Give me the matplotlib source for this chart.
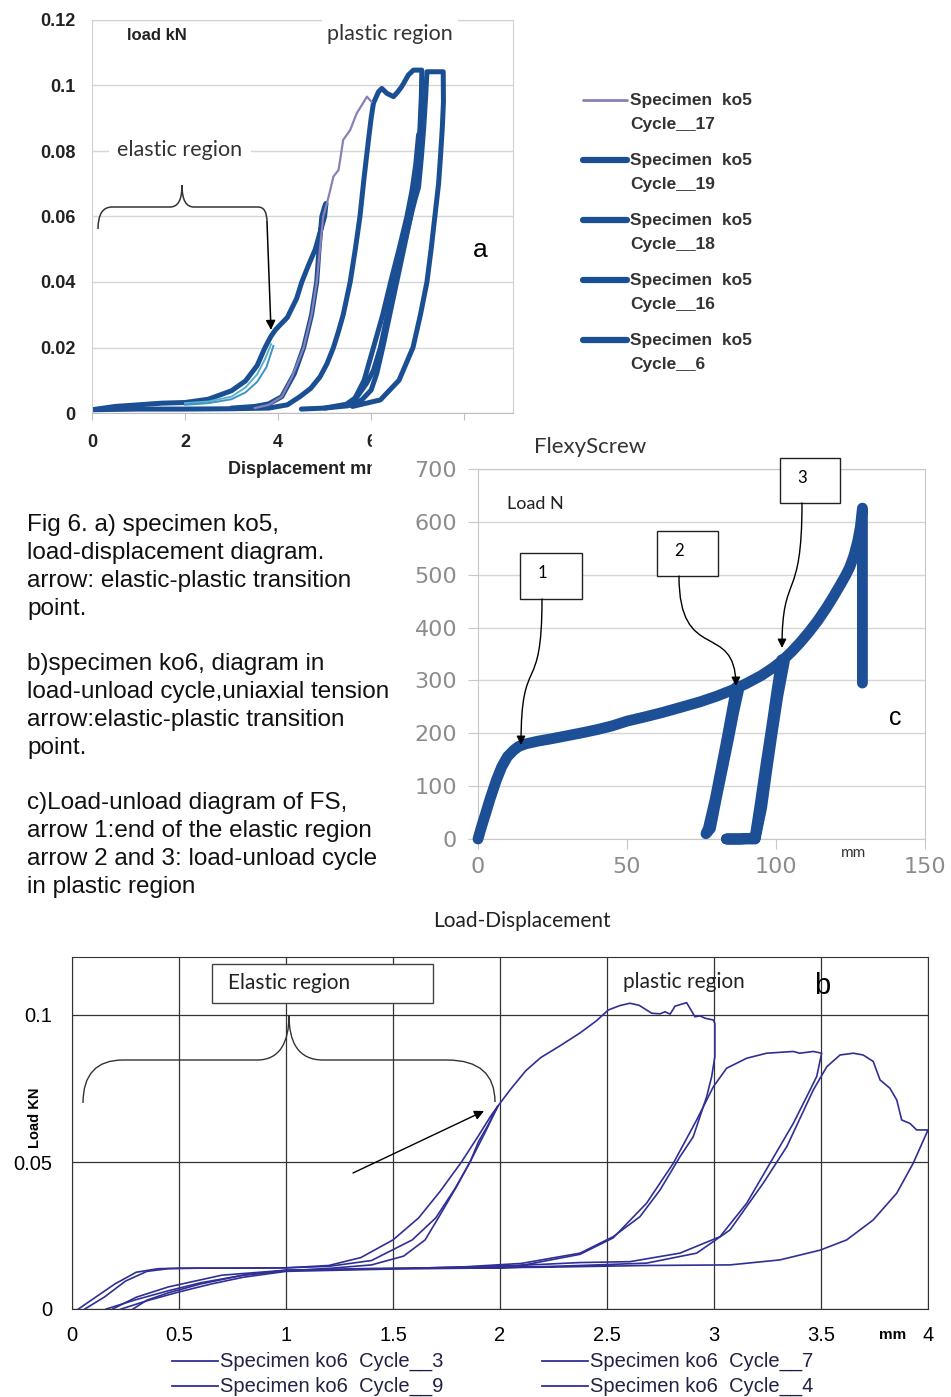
import matplotlib
matplotlib.use("Agg")
import matplotlib.pyplot as plt
from matplotlib.path import Path
from matplotlib.patches import PathPatch, Rectangle, FancyArrowPatch
from matplotlib.transforms import Affine2D
from matplotlib.lines import Line2D

W, H = 951, 1397

# ---- panel a: specimen ko5, displacement (mm) vs load (kN) ----
a_c6_x = [0, 0.5, 1, 1.5, 2, 2.5, 3, 3.3, 3.55, 3.72, 3.85, 3.95, 4.2, 4.4, 4.51, 4.65, 4.8, 4.92,
          5.0, 5.03, 5.0, 4.94, 4.88, 4.83, 4.72, 4.55, 4.35, 4.08, 3.8, 3.5, 3.0]
a_c6_y = [0.001, 0.002, 0.0025, 0.003, 0.0032, 0.0042, 0.0068, 0.0098, 0.0145, 0.02, 0.0235, 0.0255,
          0.0292, 0.035, 0.04, 0.045, 0.05, 0.056, 0.06, 0.064,
          0.063, 0.06, 0.05, 0.04, 0.03, 0.02, 0.012, 0.005, 0.0028, 0.002, 0.0015]
a_c17_x = [3.5, 3.8, 4.08, 4.3, 4.55, 4.72, 4.83, 4.9, 4.97, 5.05, 5.12, 5.19, 5.3, 5.4, 5.55,
           5.69, 5.8, 5.91, 6.01]
a_c17_y = [0.0015, 0.0025, 0.005, 0.011, 0.02, 0.03, 0.04, 0.05, 0.06, 0.064, 0.068, 0.0722, 0.0742,
           0.0834, 0.0864, 0.0915, 0.094, 0.0966, 0.095]
a_c16_x = [0, 1, 2, 3, 3.8, 4.2, 4.47, 4.7, 4.9, 5.05, 5.19, 5.3, 5.4, 5.55, 5.66, 5.76, 5.85, 5.94,
           6.0, 6.05, 6.16, 6.23, 6.34, 6.48, 6.57, 6.66, 6.8, 6.91, 7.09,
           7.08, 7.05, 7.0, 6.95, 6.85, 6.68, 6.5, 6.35, 6.2, 6.05, 5.9, 5.7, 5.5]
a_c16_y = [0.001, 0.0012, 0.0012, 0.0013, 0.0015, 0.0025, 0.005, 0.0075, 0.011, 0.015, 0.02, 0.025,
           0.03, 0.04, 0.05, 0.06, 0.072, 0.083, 0.09, 0.0946, 0.0981, 0.0991, 0.0976, 0.0966, 0.098,
           0.0997, 0.1032, 0.1047, 0.1047,
           0.097, 0.087, 0.078, 0.069, 0.06, 0.05, 0.04, 0.03, 0.02, 0.013, 0.009, 0.005, 0.003]
a_c18_x = [4.5, 5.0, 5.5, 5.8, 6.0, 6.12, 6.25, 6.4, 6.55, 6.7, 6.85, 6.94, 7.02, 7.08, 7.13, 7.17,
           7.2, 7.3, 7.45, 7.55, 7.555, 7.53, 7.49, 7.45, 7.37, 7.29, 7.2, 7.06, 6.9, 6.6, 6.2, 5.6]
a_c18_y = [0.0012, 0.0015, 0.0022, 0.004, 0.007, 0.012, 0.02, 0.03, 0.04, 0.05, 0.06, 0.065, 0.069,
           0.078, 0.087, 0.096, 0.1042, 0.1042, 0.1042, 0.1042, 0.095, 0.087, 0.078, 0.07, 0.06, 0.05,
           0.04, 0.03, 0.02, 0.01, 0.004, 0.002]
a_c19_x = [5.0, 5.6, 5.85, 6.05, 6.25, 6.42, 6.6, 6.77, 6.88, 6.96, 7.02]
a_c19_y = [0.0015, 0.003, 0.01, 0.02, 0.03, 0.04, 0.05, 0.06, 0.068, 0.076, 0.085]
a_teal1_x = [2.0, 2.5, 3.0, 3.3, 3.55, 3.72, 3.85]
a_teal1_y = [0.003, 0.0035, 0.005, 0.0078, 0.0118, 0.0165, 0.021]
a_teal2_x = [2.0, 2.5, 3.0, 3.3, 3.55, 3.75, 3.9]
a_teal2_y = [0.0025, 0.003, 0.0042, 0.0063, 0.0095, 0.014, 0.0205]
a_labels = ["Cycle__17", "Cycle__19", "Cycle__18", "Cycle__16", "Cycle__6"]

# ---- panel c: FlexyScrew, displacement (mm) vs load (N) ----
c_load_x = [0, 1, 2.6, 4, 6.2, 8, 9.9, 12, 13.6, 16, 20, 25, 30, 35, 40, 45, 50, 56, 62, 68, 74.5,
            80, 85, 90, 95, 99, 102, 105, 108, 111, 114, 117, 119.2, 121.5, 123.5, 124.8, 126.2,
            127.4, 128.3, 129, 129, 129]
c_load_y = [0, 20, 49, 75, 112, 137, 156, 168, 175, 180, 185, 190, 195.5, 201, 207, 214, 223, 231,
            239.5, 249, 259.5, 270, 281, 294, 309, 324, 337, 353, 371, 391, 413, 438, 458, 480, 500,
            515, 537, 563, 590, 626, 450, 295]
c_loop2_x = [86.8, 85.2, 83.4, 81.5, 79.6, 77.3, 76.5, 78.0, 79.9, 81.9, 83.9, 85.8, 87.6]
c_loop2_y = [288, 240, 185, 130, 75, 20, 10, 20, 75, 130, 185, 240, 286]
c_loop3_x = [101.9, 100.3, 98.5, 96.6, 94.8, 93.3, 93.0, 88.0, 83.4, 93.0, 95.2, 96.9, 98.7, 100.6,
             102.8]
c_loop3_y = [339, 280, 210, 140, 70, 15, 2, 0, 0, 0, 60, 130, 200, 270, 336]

# ---- panel b: specimen ko6, displacement (mm) vs load (kN) ----
b_c3_x = [0.03, 0.1, 0.2, 0.3, 0.4, 0.5, 0.7, 1.0, 1.2, 1.35, 1.5, 1.62, 1.72, 1.82, 1.9, 1.96, 1.99,
          1.94, 1.9, 1.86, 1.8, 1.72, 1.65, 1.55, 1.4, 1.2, 1.0, 0.8, 0.6, 0.45, 0.35, 0.285]
b_c3_y = [0, 0.0035, 0.0085, 0.0125, 0.0137, 0.0139, 0.0139, 0.014, 0.0148, 0.0175, 0.0235, 0.031,
          0.04, 0.05, 0.059, 0.066, 0.069,
          0.062, 0.057, 0.05, 0.042, 0.032, 0.0235, 0.018, 0.015, 0.0138, 0.013, 0.0115, 0.0085, 0.0055,
          0.003, 0]
b_c9_x = [0.06, 0.15, 0.25, 0.35, 0.45, 0.6, 0.8, 1.0, 1.2, 1.4, 1.59, 1.7, 1.79, 1.86, 1.93, 1.99,
          2.05, 2.12, 2.19, 2.28, 2.374, 2.45, 2.506, 2.56, 2.607, 2.65, 2.709, 2.748, 2.771, 2.795,
          2.818, 2.872, 2.911, 2.935, 2.958, 2.997, 3.004, 3.004, 2.989, 2.966, 2.903, 2.841, 2.748,
          2.654, 2.529, 2.374, 2.1, 1.8, 1.4, 1.0, 0.7, 0.45, 0.3, 0.19]
b_c9_y = [0, 0.004, 0.0095, 0.0128, 0.0137, 0.0139, 0.0139, 0.014, 0.0145, 0.0165, 0.0235, 0.031,
          0.041, 0.05, 0.06, 0.069,
          0.0748, 0.081, 0.0855, 0.0895, 0.0939, 0.098, 0.1017, 0.1032, 0.104, 0.1033, 0.1006, 0.1004,
          0.1011, 0.1003, 0.103, 0.1042, 0.0994, 0.0997, 0.0989, 0.0983, 0.0971, 0.0858, 0.079, 0.0723,
          0.0586, 0.0518, 0.0405, 0.0314, 0.0246, 0.019, 0.0155, 0.0142, 0.0136, 0.0132, 0.0115,
          0.0075, 0.004, 0]
b_c7_x = [0.16, 0.3, 0.45, 0.6, 0.8, 1.0, 1.4, 1.8, 2.1, 2.374, 2.529, 2.685, 2.81, 2.919, 2.997,
          3.059, 3.153, 3.246, 3.371, 3.40, 3.464, 3.503, 3.48, 3.449, 3.371, 3.262, 3.153, 3.028, 2.841,
          2.607, 2.374, 2.0, 1.6]
b_c7_y = [0, 0.0032, 0.0062, 0.0089, 0.0115, 0.0132, 0.0138, 0.0141, 0.0148, 0.0186, 0.0242, 0.036,
          0.0496, 0.0643, 0.0756, 0.0819, 0.0853, 0.087, 0.0876, 0.087, 0.0876, 0.087, 0.0791, 0.0745,
          0.0632, 0.0496, 0.036, 0.0246, 0.019, 0.0161, 0.0158, 0.0145, 0.0139]
b_c4_x = [0.23, 0.35, 0.5, 0.65, 0.8, 1.0, 1.5, 2.0, 2.374, 2.685, 2.919, 3.075, 3.23, 3.34, 3.464,
          3.527, 3.589, 3.651, 3.697, 3.744, 3.776, 3.822, 3.854, 3.877, 3.916, 3.947, 4.0,
          3.931, 3.854, 3.744, 3.62, 3.495, 3.308, 3.075, 2.685, 2.2, 1.6]
b_c4_y = [0, 0.0028, 0.0058, 0.0085, 0.0108, 0.0128, 0.0136, 0.014, 0.0148, 0.0156, 0.019, 0.0269,
          0.0428, 0.0552, 0.0745, 0.0824, 0.0864, 0.087, 0.0864, 0.0842, 0.0779, 0.0751, 0.0711,
          0.0643, 0.0631, 0.0609, 0.0609,
          0.0496, 0.0394, 0.0303, 0.0235, 0.02, 0.0167, 0.015, 0.0148, 0.0142, 0.0139]
b_labels = ["Specimen ko6  Cycle__3", "Specimen ko6  Cycle__9",
            "Specimen ko6  Cycle__7", "Specimen ko6  Cycle__4"]

caption = ["Fig 6. a) specimen ko5,", "load-displacement diagram.",
           "arrow: elastic-plastic transition", "point.", "",
           "b)specimen ko6, diagram in", "load-unload cycle,uniaxial tension",
           "arrow:elastic-plastic transition", "point.", "",
           "c)Load-unload diagram of FS,", "arrow 1:end of the elastic region",
           "arrow 2 and 3: load-unload cycle", "in plastic region"]

ARIAL = ["Liberation Sans", "DejaVu Sans"]
CALIBRI = ["Lato", "DejaVu Sans"]

fig = plt.figure(figsize=(W / 100, H / 100), dpi=100)
px = Affine2D().scale(1.0 / W, -1.0 / H).translate(0, 1) + fig.transFigure


def box(l, t, r, b):
    return [l / W, 1 - b / H, (r - l) / W, (b - t) / H]


def ftext(x, y, s, **kw):
    kw.setdefault("zorder", 6)
    return fig.text(x / W, 1 - y / H, s, **kw)


# ================= panel a =================
ax_a = fig.add_axes(box(92, 20, 513, 413), zorder=1)
ax_a.set_xlim(0, 9.05)
ax_a.set_ylim(0, 0.12)
blue_a = "#1b4f93"
ax_a.plot(a_teal1_x, a_teal1_y, color="#58b2cc", lw=1.4, zorder=3)
ax_a.plot(a_teal2_x, a_teal2_y, color="#3f93c2", lw=1.4, zorder=3)
for xs, ys in [(a_c6_x, a_c6_y), (a_c16_x, a_c16_y), (a_c18_x, a_c18_y), (a_c19_x, a_c19_y)]:
    ax_a.plot(xs, ys, color=blue_a, lw=3.6, zorder=2, solid_joinstyle="round",
              solid_capstyle="round")
ax_a.plot(a_c17_x, a_c17_y, color="#8a80b8", lw=1.6, zorder=3)
ax_a.set_yticks([0, 0.02, 0.04, 0.06, 0.08, 0.1, 0.12])
ax_a.set_yticklabels(["0", "0.02", "0.04", "0.06", "0.08", "0.1", "0.12"])
ax_a.set_xticks([0, 2, 4, 6, 8])
ax_a.tick_params(axis="y", length=0, pad=12, labelsize=13, labelcolor="#222222")
ax_a.tick_params(axis="x", length=5, color="#c0c0c0", pad=10, labelsize=13, labelcolor="#222222")
for lab in ax_a.get_xticklabels() + ax_a.get_yticklabels():
    lab.set_fontfamily(ARIAL)
    lab.set_fontweight("bold")
ax_a.grid(axis="y", color="#d6d6d6", lw=1)
ax_a.set_axisbelow(True)
for sp in ax_a.spines.values():
    sp.set_color("#d0d0d0")
ax_a.spines["bottom"].set_color("#bdbdbd")

ftext(157, 35, "load kN", ha="center", va="center", fontsize=12, fontweight="bold",
      family=ARIAL, color="#222222")
ftext(390, 34, "plastic region", ha="center", va="center", fontsize=15.5, family=CALIBRI,
      color="#333333", bbox=dict(facecolor="white", edgecolor="none", pad=4))
ftext(180, 150, "elastic region", ha="center", va="center", fontsize=15.5, family=CALIBRI,
      color="#333333", bbox=dict(facecolor="white", edgecolor="none", pad=6))
ftext(480, 250, "a", ha="center", va="center", fontsize=19, family=ARIAL)
ftext(228, 470, "Displacement mm", ha="left", va="center", fontsize=13, fontweight="bold",
      family=ARIAL, color="#222222", zorder=1.5)

brace_a = Path([(98, 229), (98, 207), (112, 207), (170, 207), (178, 207), (182, 200), (182, 185),
                (182, 200), (186, 207), (194, 207), (258, 207), (267, 207), (267, 222)],
               [Path.MOVETO, Path.CURVE3, Path.CURVE3, Path.LINETO, Path.CURVE4, Path.CURVE4,
                Path.CURVE4, Path.CURVE4, Path.CURVE4, Path.CURVE4, Path.LINETO, Path.CURVE3,
                Path.CURVE3])
fig.add_artist(PathPatch(brace_a, transform=px, fill=False, ec="#333333", lw=1.1, zorder=6))
fig.add_artist(FancyArrowPatch(path=Path([(267, 222), (271, 330)]), arrowstyle="-|>",
                               mutation_scale=14, lw=1.1, color="black", transform=px, zorder=6))

# legend of panel a
a_styles = [("#8a80b8", 2.0)] + [(blue_a, 4.5)] * 4
for i, (lab, (col, lw)) in enumerate(zip(a_labels, a_styles)):
    y = 100 + 60 * i
    fig.add_artist(Line2D([583 / W, 627 / W], [1 - y / H, 1 - y / H], color=col, lw=lw,
                          solid_capstyle="round", transform=fig.transFigure))
    ftext(630, y, "Specimen  ko5", va="center", fontsize=12.5, fontweight="bold",
          family=ARIAL, color="#333333")
    ftext(630, y + 24, lab, va="center", fontsize=12.5, fontweight="bold",
          family=ARIAL, color="#333333")

# white area under panel c hides the bottom right of panel a
fig.add_artist(Rectangle((372 / W, 1 - 905 / H), (951 - 372) / W, (905 - 424) / H,
                         transform=fig.transFigure, color="white", zorder=2))

# ================= panel c =================
ax_c = fig.add_axes(box(478, 469, 925, 839), zorder=3)
ax_c.set_xlim(0, 150)
ax_c.set_ylim(0, 700)
blue_c = "#1d4f96"
for xs, ys in [(c_load_x, c_load_y), (c_loop2_x, c_loop2_y), (c_loop3_x, c_loop3_y)]:
    ax_c.plot(xs, ys, color=blue_c, lw=7.8, solid_capstyle="round", solid_joinstyle="round",
              zorder=3, clip_on=False)
ax_c.set_yticks(range(0, 701, 100))
ax_c.set_xticks([0, 50, 100, 150])
ax_c.tick_params(axis="both", length=7, color="#c8c8c8", labelsize=16, labelcolor="#8c8c8c")
ax_c.tick_params(axis="y", pad=8)
ax_c.tick_params(axis="x", pad=6)
for lab in ax_c.get_xticklabels() + ax_c.get_yticklabels():
    lab.set_fontfamily("DejaVu Sans")
ax_c.grid(axis="y", color="#d6d6d6", lw=1)
ax_c.set_axisbelow(True)
for sp in ax_c.spines.values():
    sp.set_color("#c8c8c8")

ftext(590, 447, "FlexyScrew", ha="center", va="center", fontsize=16, family=CALIBRI,
      color="#333333")
ftext(535, 504, "Load N", ha="center", va="center", fontsize=13, family=CALIBRI, color="#222222")
ftext(853, 853, "mm", ha="center", va="center", fontsize=11, family=CALIBRI, color="#333333")
ftext(895, 718, "c", ha="center", va="center", fontsize=18, family=ARIAL)

for (l, t, r, b), num in zip([(520, 553, 582, 599), (657, 531, 718, 576), (780, 458, 840, 503)],
                             ["1", "2", "3"]):
    fig.add_artist(Rectangle((l / W, 1 - b / H), (r - l) / W, (b - t) / H, transform=fig.transFigure,
                             fc="white", ec="#222222", lw=1, zorder=5))
    ftext(l + 22, t + 20, num, ha="center", va="center", fontsize=12, family=CALIBRI)

for pts in [[(542, 599), (542, 700), (521, 650), (521, 745)],
            [(679, 576), (679, 665), (735, 620), (736, 686)],
            [(802, 503), (802, 605), (782, 570), (782, 648)]]:
    fig.add_artist(FancyArrowPatch(path=Path(pts, [Path.MOVETO] + [Path.CURVE4] * 3),
                                   arrowstyle="-|>", mutation_scale=13, lw=1, color="black",
                                   transform=px, zorder=6))

# caption text
for i, line in enumerate(caption):
    if line:
        ftext(27, 525 + 27.85 * i, line, va="center", fontsize=17.5, family=ARIAL, color="#111111")

# ================= panel b =================
ax_b = fig.add_axes(box(72, 957, 928, 1309), zorder=1)
ax_b.set_xlim(0, 4)
ax_b.set_ylim(0, (1309 - 957) / 2940)
navy = "#2f2f96"
for xs, ys in [(b_c3_x, b_c3_y), (b_c9_x, b_c9_y), (b_c7_x, b_c7_y), (b_c4_x, b_c4_y)]:
    ax_b.plot(xs, ys, color=navy, lw=1.2, zorder=3)
ax_b.set_xticks([0, 0.5, 1, 1.5, 2, 2.5, 3, 3.5, 4])
ax_b.set_xticklabels(["0", "0.5", "1", "1.5", "2", "2.5", "3", "3.5", "4"])
ax_b.set_yticks([0, 0.05, 0.1])
ax_b.set_yticklabels(["0", "0.05", "0.1"])
ax_b.tick_params(axis="both", length=0, labelsize=14.5)
ax_b.tick_params(axis="y", pad=14)
ax_b.tick_params(axis="x", pad=12)
for lab in ax_b.get_xticklabels() + ax_b.get_yticklabels():
    lab.set_fontfamily(ARIAL)
ax_b.grid(True, color="#333333", lw=0.9)
ax_b.set_axisbelow(True)
for sp in ax_b.spines.values():
    sp.set_color("#333333")

ftext(522, 921, "Load-Displacement", ha="center", va="center", fontsize=15, family=CALIBRI,
      color="#222222")
ftext(35, 1118, "Load KN", ha="center", va="center", rotation=90, fontsize=10.5,
      fontweight="bold", family=ARIAL)
ftext(893, 1335, "mm", ha="center", va="center", fontsize=11, fontweight="bold", family=ARIAL)
ftext(822, 986, "b", ha="center", va="center", fontsize=21, family=ARIAL)
ftext(684, 982, "plastic region", ha="center", va="center", fontsize=15, family=CALIBRI,
      color="#222222")
fig.add_artist(Rectangle((212 / W, 1 - 1003 / H), 221 / W, 39 / H, transform=fig.transFigure,
                         fc="white", ec="#444444", lw=1, zorder=5))
ftext(228, 983, "Elastic region", va="center", fontsize=15, family=CALIBRI, color="#222222")

brace_b = Path([(83, 1103), (83, 1060), (123, 1060), (257, 1060), (280, 1060), (289, 1042),
                (289, 1015), (289, 1042), (298, 1060), (323, 1060), (447, 1060), (495, 1060),
                (495, 1102)],
               [Path.MOVETO, Path.CURVE3, Path.CURVE3, Path.LINETO, Path.CURVE4, Path.CURVE4,
                Path.CURVE4, Path.CURVE4, Path.CURVE4, Path.CURVE4, Path.LINETO, Path.CURVE3,
                Path.CURVE3])
fig.add_artist(PathPatch(brace_b, transform=px, fill=False, ec="#333333", lw=1, zorder=6))
fig.add_artist(FancyArrowPatch(path=Path([(353, 1173), (484, 1111)]), arrowstyle="-|>",
                               mutation_scale=14, lw=1, color="black", transform=px, zorder=6))

# legend of panel b
for i, lab in enumerate(b_labels):
    x0 = 172 if i < 2 else 542
    y = 1361 if i % 2 == 0 else 1386
    fig.add_artist(Line2D([x0 / W, (x0 + 46) / W], [1 - y / H, 1 - y / H], color=navy, lw=1.3,
                          transform=fig.transFigure))
    ftext(x0 + 48, y, lab, va="center", fontsize=14.5, family=ARIAL, color="#222244")

fig.savefig("out.png", dpi=100, facecolor="white")
